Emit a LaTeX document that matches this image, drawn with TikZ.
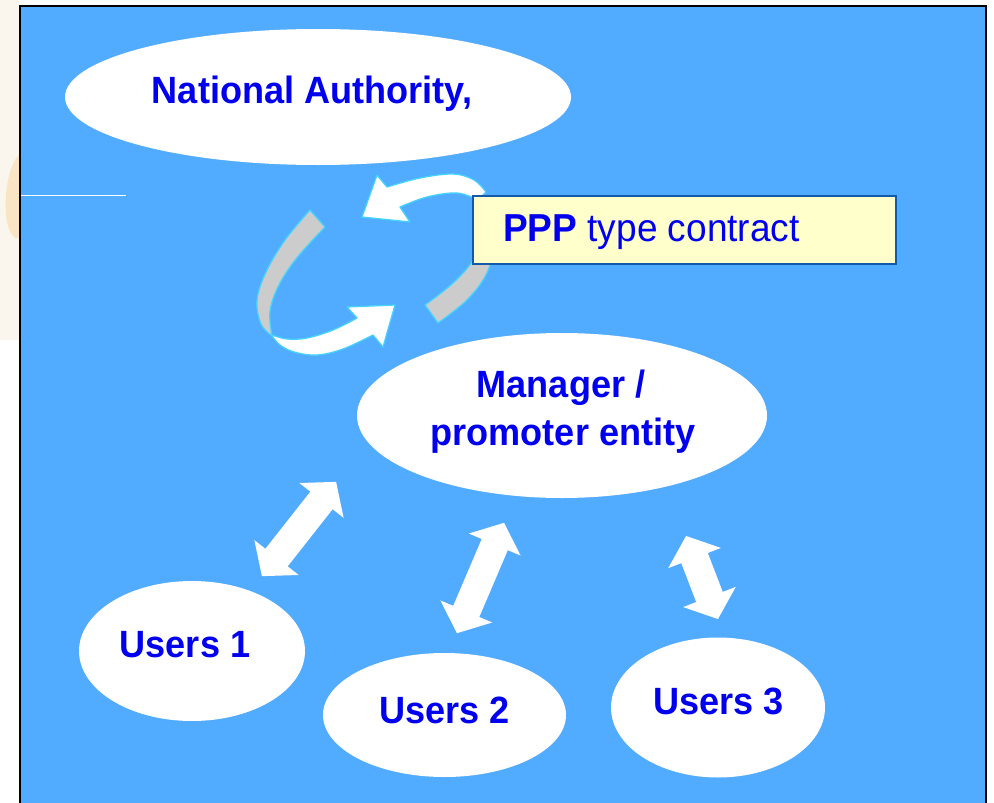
\documentclass[tikz,border=0pt]{standalone}
\usepackage{fontspec}
\setmainfont{Liberation Sans}[FakeStretch=0.95]
\usetikzlibrary{shapes.geometric,shapes.arrows}
\definecolor{bgblue}{RGB}{81,171,254}
\definecolor{txtblue}{RGB}{0,0,238}
\definecolor{ringcyan}{RGB}{70,210,255}
\definecolor{ringgray}{RGB}{204,204,204}
\definecolor{boxfill}{RGB}{255,255,204}
\definecolor{boxline}{RGB}{20,90,170}
\definecolor{peach}{RGB}{249,215,160}
\definecolor{cream}{RGB}{250,246,238}
\tikzset{
  bubble/.style={ellipse, fill=white, draw=none, inner sep=0pt},
  lbl/.style={text=txtblue, font=\fontsize{38}{46}\selectfont\bfseries, inner sep=0pt, anchor=base},
  fatarrow/.style={double arrow, fill=white, draw=none, inner xsep=0pt, inner ysep=14pt,
    double arrow head extend=14pt, double arrow tip angle=100},
  ringpart/.style={draw=ringcyan, line width=1.3pt, line join=round},
}
\begin{document}
\begin{tikzpicture}[x=1pt,y=-1pt]
\useasboundingbox (0,0) rectangle (994,803);
% faint background at left
\fill[cream] (0,0) rectangle (19,340);
\fill[peach, opacity=0.55] (19,155) .. controls (8,165) and (3,200) .. (7,222) .. controls (10,236) and (16,240) .. (19,238) -- cycle;
% blue panel
\fill[bgblue] (20,6) rectangle (986,803);
\draw[black, line width=2pt] (20,803) -- (20,6) -- (986,6) -- (986,803);
\draw[white, line width=0.8pt] (21,195) -- (126,195);

% ellipses
\node[bubble, minimum width=506pt, minimum height=136pt] (nat) at (318,97) {};
\node[bubble, minimum width=410pt, minimum height=165pt] (mgr) at (562,415.5) {};
\node[bubble, minimum width=226pt, minimum height=140pt] (u1) at (192,651) {};
\node[bubble, minimum width=243pt, minimum height=124pt] (u2) at (444.5,715) {};
\node[bubble, minimum width=214pt, minimum height=140pt] (u3) at (718,707.5) {};

% texts
\node[lbl] (tnat) at (312,103.3) {National Authority,};
\node[lbl] (tmgr1) at (561,397) {Manager /};
\node[lbl] (tmgr2) at (563,445) {promoter entity};
\node[lbl] (tu1) at (185,657) {Users 1};
\node[lbl] (tu2) at (444.5,723) {Users 2};
\node[lbl] (tu3) at (718.5,714) {Users 3};

% circular arrows (ring)
\filldraw[ringpart, fill=ringgray]
  plot[smooth, tension=0.6] coordinates {(310,210) (285,240) (266,272) (257,300) (261,324) (272,336)}
  -- plot[smooth, tension=0.6] coordinates {(272,336) (270,312) (278,287) (296,259) (325,227)}
  -- cycle;
\filldraw[ringpart, fill=ringgray]
  (425,305) -- (438,323)
  -- plot[smooth, tension=0.6] coordinates {(438,323) (467,300) (487,273) (496,240)}
  -- (478,240)
  -- plot[smooth, tension=0.6] coordinates {(478,240) (473,260) (453,283) (425,305)}
  -- cycle;
\filldraw[ringpart, fill=white]
  plot[smooth, tension=0.6] coordinates {(272,335) (287,339) (307,338) (333,330) (357,318)}
  -- (347,307) -- (395,305) -- (383,347) -- (373,335)
  -- plot[smooth, tension=0.6] coordinates {(373,335) (343,349) (317,355) (294,352) (280,345) (272,336)}
  -- cycle;
\filldraw[ringpart, fill=white]
  (377,175) -- (362,217) -- (410,222) -- (400,207)
  -- plot[smooth, tension=0.6] coordinates {(400,207) (427,197) (457,193) (478,200)}
  -- (486,192)
  -- plot[smooth, tension=0.6] coordinates {(486,192) (474,180) (453,174) (420,178) (387,187)}
  -- cycle;

% contract box
\node[rectangle, draw=boxline, line width=2pt, fill=boxfill, minimum width=423pt, minimum height=68pt, inner sep=0pt] (ppp) at (684.5,229.5) {};
\node[text=txtblue, font=\fontsize{39}{46}\selectfont, inner sep=0pt, anchor=base west] (tppp) at (503,241.7) {\textbf{PPP} type contract};

% double arrows
\node[fatarrow, minimum height=120pt, rotate=51.8] (a1) at (299,529) {};
\node[fatarrow, minimum height=120pt, rotate=66.9] (a2) at (480.5,578) {};
\node[fatarrow, minimum height=89pt, rotate=111] (a3) at (702,577.5) {};
\end{tikzpicture}
\end{document}
